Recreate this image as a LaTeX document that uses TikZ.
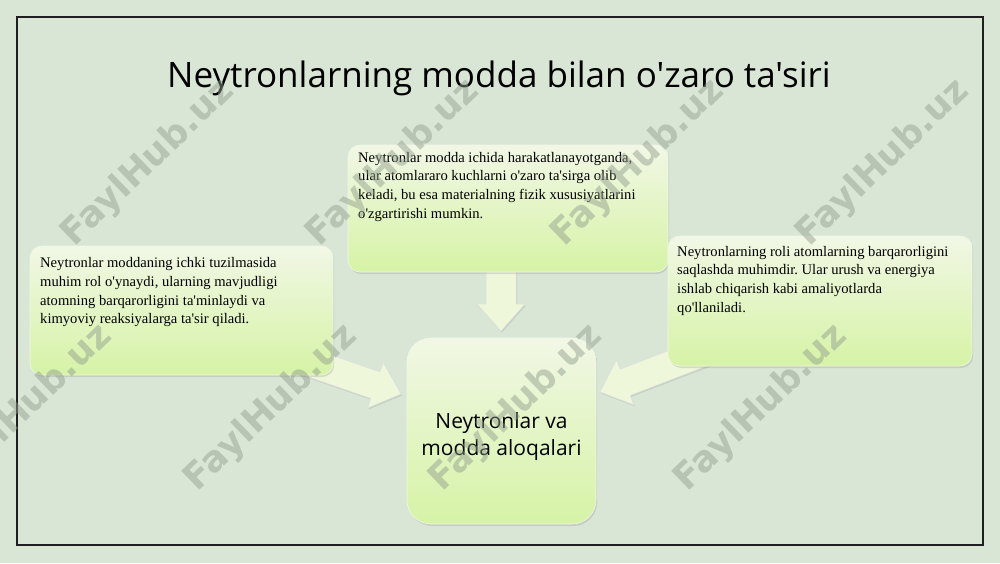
\documentclass[tikz,border=0pt]{standalone}
\usepackage{fontspec}
\setmainfont{Liberation Serif}[Ligatures=TeXOff]
\newfontfamily\titlefont{Open Sans}[Ligatures=TeXOff]
\newfontfamily\wmfont{DejaVu Sans}[Ligatures=TeXOff]
\usetikzlibrary{shadows}
\frenchspacing
\definecolor{bg}{RGB}{217,229,213}
\definecolor{boxtop}{RGB}{241,247,229}
\definecolor{boxbot}{RGB}{214,243,166}
\definecolor{arrowfill}{RGB}{238,247,218}
\definecolor{wmcol}{RGB}{146,158,142}
\tikzset{
  infobox/.style={rectangle, rounded corners=12pt, top color=boxtop, bottom color=boxbot,
    draw=boxtop, line width=0.6pt,
    drop shadow={shadow xshift=1.2pt, shadow yshift=-2pt, opacity=0.22}},
  boxtext/.style={anchor=north west, inner sep=0pt, align=left,
    font=\fontsize{14.6}{18.6}\selectfont},
  blockarrow/.style={fill=arrowfill, draw=black!12, line width=0.5pt,
    drop shadow={shadow xshift=1pt, shadow yshift=-1.5pt, opacity=0.2}},
  wmark/.style={font=\wmfont\bfseries\fontsize{36}{36}\selectfont, text=wmcol,
    opacity=0.48, rotate=44, inner sep=0pt}
}
\begin{document}
\begin{tikzpicture}[x=1pt,y=-1pt]
\useasboundingbox (0,0) rectangle (1000,563);
\fill[bg] (0,0) rectangle (1000,563);
\draw[line width=1.6pt, black!88] (17,17) rectangle (983,545);

\node[font=\titlefont\fontsize{35}{42}\selectfont, inner sep=0pt] (title) at (499,78)
  {Neytronlarning modda bilan o'zaro ta'siri};

% block arrows (behind boxes)
\begin{scope}[shift={(501,331)}, rotate=-90]
  \path[blockarrow] (0,0) -- (-27,-24) -- (-27,-15) -- (-70,-15) -- (-70,15) -- (-27,15) -- (-27,24) -- cycle;
\end{scope}
\begin{scope}[shift={(401,394)}, rotate=-19]
  \path[blockarrow] (0,0) -- (-27,-24) -- (-27,-14) -- (-110,-14) -- (-110,14) -- (-27,14) -- (-27,24) -- cycle;
\end{scope}
\begin{scope}[shift={(600,392)}, rotate=-159]
  \path[blockarrow] (0,0) -- (-27,-24) -- (-27,-14) -- (-120,-14) -- (-120,14) -- (-27,14) -- (-27,24) -- cycle;
\end{scope}

% boxes
\node[infobox, minimum width=320pt, minimum height=127pt] (topbox) at (508,208.5) {};
\node[infobox, minimum width=303pt, minimum height=129pt] (leftbox) at (181.5,310.5) {};
\node[infobox, minimum width=304pt, minimum height=130pt] (rightbox) at (820,301) {};
\node[infobox, rounded corners=24pt, minimum width=189pt, minimum height=186pt] (centerbox) at (501.5,431) {};

\node[boxtext] (toptext) at (358,152) {Neytronlar modda ichida harakatlanayotganda,\\ular atomlararo kuchlarni o'zaro ta'sirga olib\\keladi, bu esa materialning fizik xususiyatlarini\\o'zgartirishi mumkin.};
\node[boxtext] (lefttext) at (40,257.5) {Neytronlar moddaning ichki tuzilmasida\\muhim rol o'ynaydi, ularning mavjudligi\\atomning barqarorligini ta'minlaydi va\\kimyoviy reaksiyalarga ta'sir qiladi.};
\node[boxtext] (righttext) at (677,246) {Neytronlarning roli atomlarning barqarorligini\\saqlashda muhimdir. Ular urush va energiya\\ishlab chiqarish kabi amaliyotlarda\\qo'llaniladi.};
\node[font=\titlefont\fontsize{21}{27}\selectfont, align=center, inner sep=0pt] (centertext) at (501.5,437) {Neytronlar va\\modda aloqalari};

% watermarks
\node[wmark] (wm1) at (148,163) {FaylHub.uz};
\node[wmark] (wm2) at (393,163) {FaylHub.uz};
\node[wmark] (wm3) at (638,163) {FaylHub.uz};
\node[wmark] (wm4) at (883,163) {FaylHub.uz};
\node[wmark] (wm5) at (26,408) {FaylHub.uz};
\node[wmark] (wm6) at (271,408) {FaylHub.uz};
\node[wmark] (wm7) at (516,408) {FaylHub.uz};
\node[wmark] (wm8) at (761,408) {FaylHub.uz};
\end{tikzpicture}
\end{document}
